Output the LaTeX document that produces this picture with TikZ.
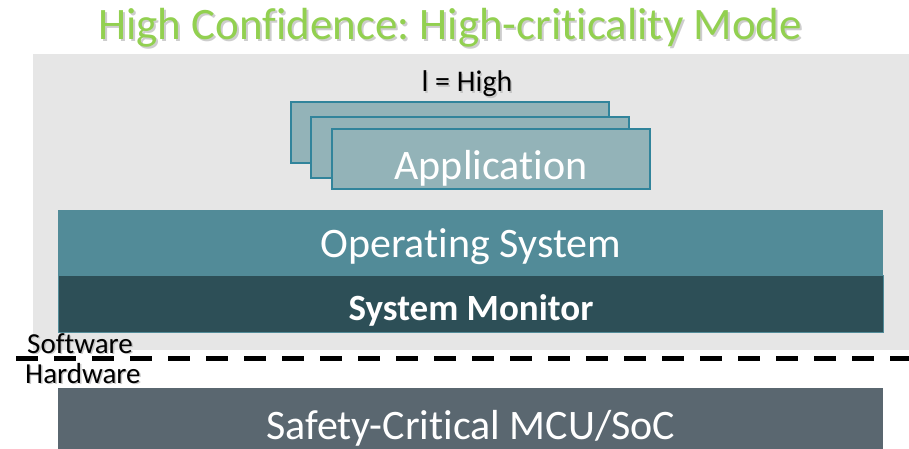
\documentclass[tikz,border=0pt]{standalone}
\usepackage{fontspec}
\setmainfont{Carlito}[Ligatures=NoCommon]
\usepackage{xcolor}
\usetikzlibrary{positioning}
\frenchspacing

\definecolor{titlegreen}{HTML}{92D050}
\definecolor{panelgray}{HTML}{E6E6E6}
\definecolor{appfill}{HTML}{93B3B8}
\definecolor{appedge}{HTML}{31849B}
\definecolor{osfill}{HTML}{528B98}
\definecolor{monfill}{HTML}{2D4F57}
\definecolor{mcufill}{HTML}{5A6770}

\begin{document}
\begin{tikzpicture}[
  x=1pt, y=-1pt,
  appcard/.style={draw=appedge, line width=2pt, fill=appfill, anchor=north west, inner sep=0pt, minimum width=318pt, text=white},
  layer/.style={anchor=north west, inner sep=0pt, minimum width=825pt, text=white},
  side/.style={anchor=base west, inner sep=0pt, font=\fontsize{29}{32}\selectfont},
  txtshadow/.style={text=black!28, opacity=0.7}
]
\useasboundingbox (0,0) rectangle (909,449);

% title
\node[txtshadow, anchor=base, font=\fontsize{45}{50}\selectfont] at (452,42) {High Confidence: High-criticality Mode};
\node[text=titlegreen, anchor=base, font=\fontsize{45}{50}\selectfont] (title) at (450,40) {High Confidence: High-criticality Mode};

% software panel
\fill[panelgray] (33,54) rectangle (909,350);

\node[txtshadow, anchor=base, font=\fontsize{30}{32}\selectfont] at (468.5,93.5) {l = High};
\node[anchor=base, font=\fontsize{30}{32}\selectfont] (crit) at (467,92) {l = High};

\node[appcard, text height=0pt, text depth=0pt, minimum height=61pt] (app1) at (290,101) {};
\node[appcard, text height=0pt, text depth=0pt, minimum height=61pt] (app2) at (310,116) {};
\node[appcard, text height=50pt, text depth=10pt, font=\fontsize{42}{44}\selectfont] (app3) at (331,128) {Application};

\node[layer, fill=osfill, text height=47pt, text depth=18pt, font=\fontsize{42}{44}\selectfont] (os) at (58,210) {Operating System};
\node[layer, fill=monfill, draw=osfill, line width=1pt, text height=45pt, text depth=12pt, font=\fontsize{37}{40}\selectfont\bfseries] (mon) at (58,275) {System Monitor};

% software / hardware split
\coordinate (splitL) at (16,358);
\coordinate (splitR) at (909,358);
\draw[line width=5pt, dash pattern=on 22pt off 16pt] (splitL) -- (splitR);

\node[side, txtshadow] at (28.5,354.5) {Software};
\node[side] (sw) at (27,353) {Software};
\node[side, txtshadow] at (26.5,384.5) {Hardware};
\node[side] (hw) at (25,383) {Hardware};

% hardware
\node[layer, fill=mcufill, text height=51pt, text depth=10pt, font=\fontsize{42}{44}\selectfont] (mcu) at (58,388) {Safety-Critical MCU/SoC};
\end{tikzpicture}
\end{document}
